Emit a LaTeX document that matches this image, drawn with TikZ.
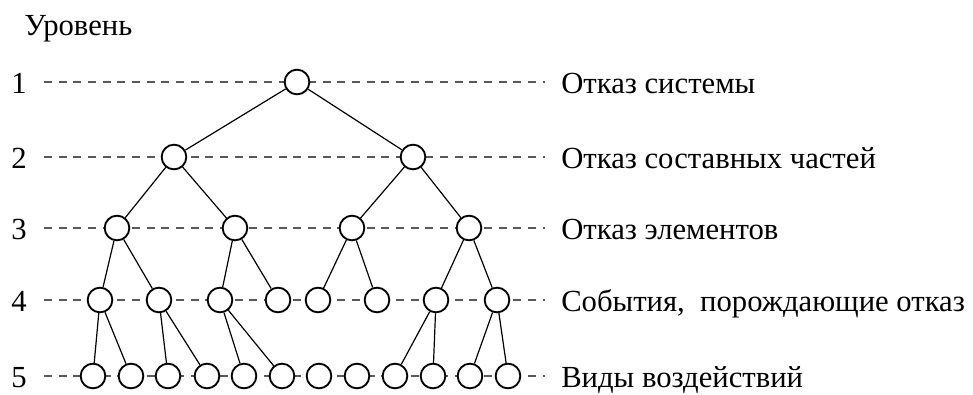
\documentclass[tikz,border=0pt]{standalone}
\usepackage{fontspec}
\setmainfont{Liberation Serif}
\tikzstyle{event}=[circle,draw,line width=1.4pt,fill=white,inner sep=0pt,minimum size=18.5pt]
\tikzstyle{levelline}=[draw=black!65,line width=1pt,dash pattern=on 6pt off 5pt]
\tikzstyle{branch}=[line width=0.9pt]
\tikzstyle{caption}=[anchor=base west,inner sep=0pt,font=\fontsize{23}{27}\selectfont]

\begin{document}
\begin{tikzpicture}[x=0.75pt,y=-0.75pt]
\useasboundingbox (0,0) rectangle (973,394);
\node[caption] (title) at (24,35) {Уровень};
% guide lines for the levels
\foreach \n/\y in {1/82,2/157,3/228,4/300,5/376}{
    \node[caption] (num\n) at (11,\y+11) {\n};
    \coordinate (s\n) at (44,\y);
    \coordinate (e\n) at (545,\y);
    \draw[levelline] (s\n) -- (e\n);
}
\node[caption] (t1) at (561,93) {Отказ системы};
\node[caption] (t2) at (561,168) {Отказ составных частей};
\node[caption] (t3) at (561,239) {Отказ элементов};
\node[caption] (t4) at (561,311) {События,\hspace{0.5em}порождающие отказ};
\node[caption] (t5) at (561,387) {Виды воздействий};
% tree
\node[event] (top) at (297,82) {};
\node[event] (a) at (174,157) {};
\node[event] (b) at (413,157) {};
\node[event] (aa) at (117,228) {};
\node[event] (ab) at (235,228) {};
\node[event] (ba) at (352,228) {};
\node[event] (bb) at (469,228) {};
\node[event] (aaa) at (100,300) {};
\node[event] (aab) at (159,300) {};
\node[event] (aba) at (220,300) {};
\node[event] (abb) at (278,300) {};
\node[event] (baa) at (318,300) {};
\node[event] (bab) at (377,300) {};
\node[event] (bba) at (436,300) {};
\node[event] (bbb) at (497,300) {};
\foreach \i/\x in {1/93,2/131,3/168,4/207,5/244,6/282,7/319,8/357,9/395,10/433,11/470,12/508}
    \node[event] (f\i) at (\x,376) {};
\draw[branch] (top) -- (a) (top) -- (b)
    (a) -- (aa) (a) -- (ab) (b) -- (ba) (b) -- (bb)
    (aa) -- (aaa) (aa) -- (aab) (ab) -- (aba) (ab) -- (abb)
    (ba) -- (baa) (ba) -- (bab) (bb) -- (bba) (bb) -- (bbb)
    (aaa) -- (f1) (aaa) -- (f2) (aab) -- (f3) (aab) -- (f4)
    (aba) -- (f5) (aba) -- (f6) (bba) -- (f9) (bba) -- (f10)
    (bbb) -- (f11) (bbb) -- (f12);
\end{tikzpicture}
\end{document}
